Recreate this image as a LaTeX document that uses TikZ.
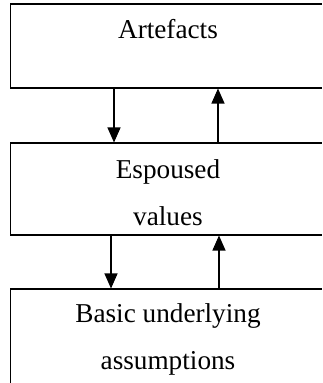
\documentclass[tikz,border=0pt]{standalone}
\usepackage{fontspec}
\setmainfont{Liberation Serif}
\usetikzlibrary{arrows.meta}
\begin{document}
\begin{tikzpicture}[x=0.02cm, y=-0.02cm,
			layer/.style={draw, rectangle, line width=0.6pt, minimum width=6.32cm, inner sep=0pt, align=center,
				font=\fontsize{15.5pt}{26.75pt}\selectfont},
			arrow/.style={-{Triangle[width=0.26cm,length=0.3cm]}, line width=0.6pt}
			]
			\useasboundingbox (0,0) rectangle (322,383);
			\clip (0,0) rectangle (322,383);
			
			% Layers
			\node[layer, text height=0.68cm, text depth=1.0cm] (art) at (168,46) {Artefacts};
			\node[layer, minimum height=1.84cm] (esp) at (168,189) {\rule{0pt}{0.51cm}Espoused\\values};
			\node[layer, minimum height=2.0cm] (bas) at (168,339) {Basic underlying\\assumptions};
			
			% Between artefacts and values
			\draw[arrow] ([xshift=-1.08cm]art.south) -- ([xshift=-1.08cm]esp.north);
			\draw[arrow] ([xshift=1.0cm]esp.north) -- ([xshift=1.0cm]art.south);
			
			% Between values and assumptions
			\draw[arrow] ([xshift=-1.14cm]esp.south) -- ([xshift=-1.14cm]bas.north);
			\draw[arrow] ([xshift=1.02cm]bas.north) -- ([xshift=1.02cm]esp.south);
		\end{tikzpicture}
\end{document}
